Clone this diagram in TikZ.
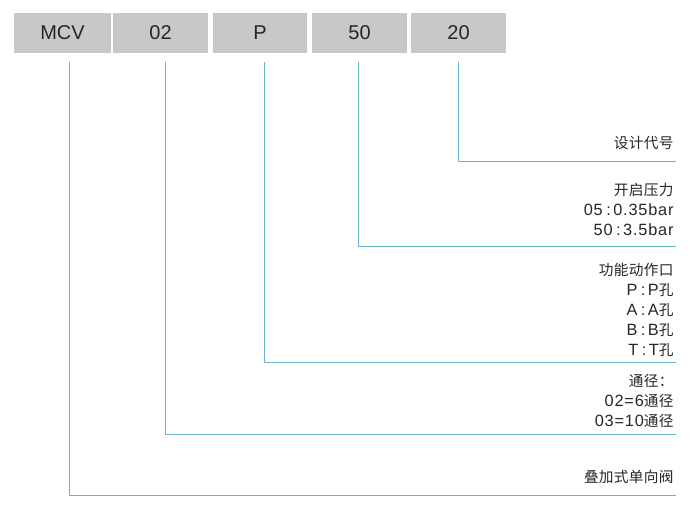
\documentclass[tikz,border=0pt]{standalone}
\usepackage{fontspec}
\setmainfont{Liberation Sans}
\newfontfamily\notefont[LetterSpace=5]{Liberation Sans}
\newfontfamily\cjk[Scale=0.9, LetterSpace=2]{Noto Sans CJK SC}
\newcommand{\colsep}{\hspace{3.5pt}:\hspace{2.5pt}}
\definecolor{codegray}{HTML}{C8C8C8}
\definecolor{leadblue}{HTML}{6AB6D2}
\begin{document}
\begin{tikzpicture}[x=1pt, y=-1pt, line width=1pt,
  codebox/.style={fill=codegray, minimum height=40pt, inner sep=0pt, font=\fontsize{20}{24}\selectfont, text=black!85},
  lead/.style={draw=leadblue},
  note/.style={align=right, anchor=north east, inner sep=0pt, font=\notefont\fontsize{16.3}{20}\selectfont, text=black!85}]
  \useasboundingbox (0,0) rectangle (700,517);
  % code boxes
  \node[codebox, minimum width=97pt] (mcv) at (62.5,33) {MCV};
  \node[codebox, minimum width=95pt] (bore) at (160.5,33) {02};
  \node[codebox, minimum width=94pt] (port) at (260,33) {P};
  \node[codebox, minimum width=95pt] (crack) at (359.5,33) {50};
  \node[codebox, minimum width=95pt] (design) at (458.5,33) {20};
  % notes
  \node[note] (designtxt) at (674,136) {{\cjk 设计代号}};
  \node[note] (cracktxt) at (674,183) {{\cjk 开启压力}\\05\colsep0.35bar\\50\colsep3.5bar};
  \node[note] (porttxt) at (674,263) {{\cjk 功能动作口}\\P\colsep P{\cjk 孔}\\A\colsep A{\cjk 孔}\\B\colsep B{\cjk 孔}\\T\colsep T{\cjk 孔}};
  \node[note] (boretxt) at (674,374) {{\cjk 通径：}\\02=6{\cjk 通径}\\03=10{\cjk 通径}};
  \node[note] (mcvtxt) at (674,470) {{\cjk 叠加式单向阀}};
  % leads
  \coordinate (mcvtop) at (69,62);
  \coordinate (boretop) at (165,62);
  \coordinate (porttop) at (264,62);
  \coordinate (cracktop) at (358,62);
  \coordinate (designtop) at (458,62);
  \coordinate (mcvend) at (676,495);
  \coordinate (boreend) at (676,434);
  \coordinate (portend) at (676,362);
  \coordinate (crackend) at (676,246);
  \coordinate (designend) at (676,161);
  \draw[lead] (mcvtop) |- (mcvend);
  \draw[lead] (boretop) |- (boreend);
  \draw[lead] (porttop) |- (portend);
  \draw[lead] (cracktop) |- (crackend);
  \draw[lead] (designtop) |- (designend);
\end{tikzpicture}
\end{document}
